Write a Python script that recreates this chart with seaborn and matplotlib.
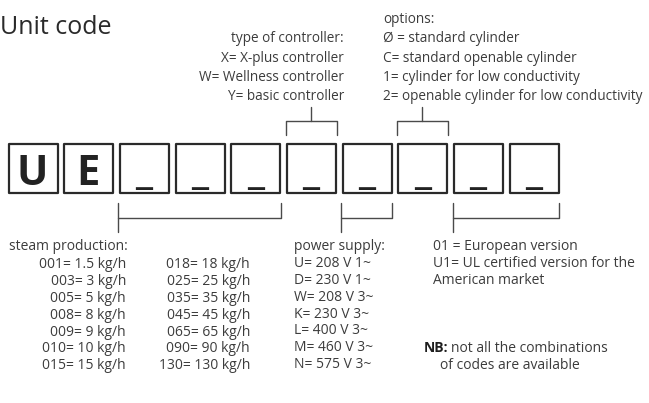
#Unit code diagram
import numpy as np
from matplotlib import pyplot as plt
import seaborn as sns

# The code letters in the boxes
code_chars = ['U', 'E', '_', '_', '_', '_', '_', '_', '_', '_']

controller_lines = ['type of controller:', 'X= X-plus controller',
                    'W= Wellness controller', 'Y= basic controller']
option_lines = ['options:', 'Ø = standard cylinder', 'C= standard openable cylinder',
                '1= cylinder for low conductivity', '2= openable cylinder for low conductivity']
steam_col1 = ['001= 1.5 kg/h', '003= 3 kg/h', '005= 5 kg/h', '008= 8 kg/h',
              '009= 9 kg/h', '010= 10 kg/h', '015= 15 kg/h']
steam_col2 = ['018= 18 kg/h', '025= 25 kg/h', '035= 35 kg/h', '045= 45 kg/h',
              '065= 65 kg/h', '090= 90 kg/h', '130= 130 kg/h']
power_lines = ['power supply:', 'U= 208 V 1~', 'D= 230 V 1~', 'W= 208 V 3~',
               'K= 230 V 3~', 'L= 400 V 3~', 'M= 460 V 3~', 'N= 575 V 3~']
version_lines = ['01 = European version', 'U1= UL certified version for the', 'American market']

# which boxes each bracket groups (first, last)
top_groups = [(5, 5), (7, 7)]
bottom_groups = [(2, 4), (6, 6), (8, 9)]

sns.set_theme(style='white')
plt.rcParams['font.family'] = ['Open Sans', 'DejaVu Sans']

txt = '#3c3c3c'
lc = '#4a4a4a'
fs = 10
fs_top = 9.8

fig = plt.figure(figsize=(6.49, 4.03), dpi=100)
ax = fig.add_axes([0, 0, 1, 1])

# boxes
left0, pitch, bw = 7, 55.7, 51
box_top, box_bot = 142, 193
lefts = left0 + pitch * np.arange(len(code_chars))
centers = lefts + bw / 2
side_pt = (bw - 2) * 72 / 100
sns.scatterplot(x=centers, y=np.full(len(centers), (box_top + box_bot) / 2), marker='s',
                s=side_pt ** 2, color='white', edgecolor='#2a2a2a', linewidth=1.6, ax=ax,
                legend=False, zorder=2)
for c, ch in zip(centers, code_chars):
    y = 185 if ch != '_' else 183
    ax.text(c, y, ch, ha='center', va='baseline', fontsize=30, fontweight='bold',
            color='#222222', zorder=3)

# top brackets
for a, b in top_groups:
    x0, x1 = lefts[a], lefts[b] + bw
    ax.plot([x0, x0, x1, x1], [135, 121, 121, 135], color=lc, lw=1.0)
    ax.plot([(x0 + x1) / 2] * 2, [121, 107], color=lc, lw=1.0)

# bottom brackets
for a, b in bottom_groups:
    x0, x1 = lefts[a], lefts[b] + bw
    ax.plot([x0, x0], [203, 232], color=lc, lw=1.0)
    ax.plot([x0, x1, x1], [218, 218, 203], color=lc, lw=1.0)

# title
ax.text(0, 34, 'Unit code', fontsize=18, color='#2a2a2a', va='baseline')

# upper texts
top_step = 19.3
for i, s in enumerate(controller_lines):
    ax.text(344, 23 + top_step * (i + 1), s, ha='right', va='baseline', fontsize=fs_top, color=txt)
for i, s in enumerate(option_lines):
    ax.text(383, 23 + top_step * i, s, ha='left', va='baseline', fontsize=fs_top, color=txt)

# lower texts
step = 16.9
ax.text(9, 250, 'steam production:', va='baseline', fontsize=fs, color=txt)
for i, (s1, s2) in enumerate(zip(steam_col1, steam_col2)):
    ax.text(126, 268 + step * i, s1, ha='right', va='baseline', fontsize=fs, color=txt)
    ax.text(250, 268 + step * i, s2, ha='right', va='baseline', fontsize=fs, color=txt)
for i, s in enumerate(power_lines):
    ax.text(294, 250 + step * i, s, ha='left', va='baseline', fontsize=fs, color=txt)
for i, s in enumerate(version_lines):
    ax.text(433, 250 + step * i, s, ha='left', va='baseline', fontsize=fs, color=txt)
ax.text(424, 352, 'NB:', va='baseline', fontsize=fs, color='#1e1e1e', fontweight='bold')
ax.text(451, 352, 'not all the combinations', va='baseline', fontsize=fs, color=txt)
ax.text(440, 369, 'of codes are available', va='baseline', fontsize=fs, color=txt)

ax.set_xlim(0, 649)
ax.set_ylim(403, 0)
ax.axis('off')
fig.savefig('out.png', dpi=100)
